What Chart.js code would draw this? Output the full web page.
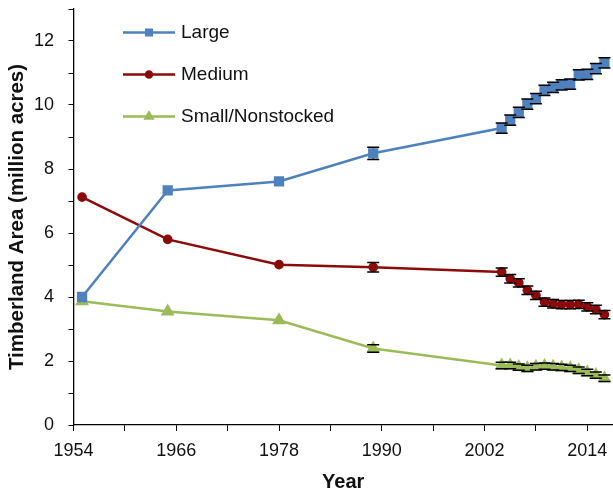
<!DOCTYPE html>
<html><head><meta charset="utf-8">
<script src="https://cdn.jsdelivr.net/npm/chart.js@4.4.0/dist/chart.umd.min.js"></script>
<style>html,body{margin:0;padding:0;background:#fff;}</style>
</head><body>
<canvas id="c" width="613" height="492"></canvas>
<script>
// ---- data ----
const years = [1955, 1965, 1978, 1989, 2004, 2005, 2006, 2007, 2008, 2009, 2010, 2011, 2012, 2013, 2014, 2015, 2016];
const largeArea  = [4.00, 7.33, 7.61, 8.49, 9.28, 9.53, 9.77, 10.03, 10.20, 10.46, 10.55, 10.63, 10.65, 10.94, 10.96, 11.14, 11.32];
const largeErr   = [0, 0, 0, 0.19, 0.16, 0.16, 0.16, 0.16, 0.16, 0.16, 0.16, 0.16, 0.16, 0.16, 0.16, 0.16, 0.16];
const mediumArea = [7.12, 5.80, 5.01, 4.93, 4.78, 4.57, 4.44, 4.21, 4.05, 3.84, 3.79, 3.76, 3.76, 3.77, 3.69, 3.61, 3.45];
const mediumErr  = [0, 0, 0, 0.15, 0.13, 0.13, 0.13, 0.13, 0.13, 0.13, 0.13, 0.13, 0.13, 0.13, 0.13, 0.13, 0.13];
const smallArea  = [3.87, 3.55, 3.27, 2.39, 1.86, 1.86, 1.81, 1.77, 1.82, 1.84, 1.82, 1.80, 1.77, 1.71, 1.64, 1.56, 1.46];
const smallErr   = [0, 0, 0, 0.12, 0.10, 0.10, 0.10, 0.10, 0.10, 0.10, 0.10, 0.10, 0.10, 0.10, 0.10, 0.10, 0.10];
const seriesNames = ['Large', 'Medium', 'Small/Nonstocked'];
const xTickValues = [1954, 1960, 1966, 1972, 1978, 1984, 1990, 1996, 2002, 2008, 2014];
const xTickLabels = [1954, 1966, 1978, 1990, 2002, 2014];
const yTickLabels = [0, 2, 4, 6, 8, 10, 12];

const FONT = '"Liberation Sans", Arial, sans-serif';
const pts = (vals) => years.map((x, i) => ({x: x, y: vals[i]}));

const errorBars = {
  id: 'errorBars',
  _draw(chart, part) {
    const ctx = chart.ctx, ys = chart.scales.y;
    chart.data.datasets.forEach((ds, di) => {
      const meta = chart.getDatasetMeta(di);
      meta.data.forEach((el, i) => {
        const e = ds.errors[i];
        if (!e) return;
        const v = ds.data[i].y;
        const yt = ys.getPixelForValue(v + e), yb = ys.getPixelForValue(v - e);
        ctx.save();
        ctx.strokeStyle = '#000';
        ctx.beginPath();
        if (part === 'stem') {
          ctx.lineWidth = 1.2;
          ctx.moveTo(el.x, yt); ctx.lineTo(el.x, yb);
        } else {
          ctx.lineWidth = 1.5;
          ctx.moveTo(el.x - 6, yt); ctx.lineTo(el.x + 6, yt);
          ctx.moveTo(el.x - 6, yb); ctx.lineTo(el.x + 6, yb);
        }
        ctx.stroke();
        ctx.restore();
      });
    });
  },
  beforeDatasetsDraw(chart) { this._draw(chart, 'stem'); },
  afterDatasetsDraw(chart) { this._draw(chart, 'cap'); }
};

const legendBox = {
  id: 'legendBox',
  afterDraw(chart) {
    const ctx = chart.ctx;
    chart.data.datasets.forEach((ds, i) => {
      const y = 32.5 + i * 42;
      ctx.save();
      ctx.strokeStyle = ds.borderColor; ctx.lineWidth = 2.5;
      ctx.beginPath(); ctx.moveTo(123, y); ctx.lineTo(175, y); ctx.stroke();
      ctx.fillStyle = ds.pointBackgroundColor; ctx.strokeStyle = ds.pointBorderColor;
      Chart.helpers.drawPoint(ctx, {pointStyle: ds.pointStyle, radius: ds.legendRadius, rotation: 0, borderWidth: 1}, 149, y);
      ctx.fillStyle = '#111'; ctx.font = '19px ' + FONT;
      ctx.textBaseline = 'middle'; ctx.textAlign = 'left';
      ctx.fillText(ds.label, 181, y);
      ctx.restore();
    });
  }
};

new Chart(document.getElementById('c'), {
  type: 'line',
  data: {
    datasets: [
      {label: seriesNames[0], data: pts(largeArea), errors: largeErr, borderColor: '#4F81BD', backgroundColor: '#4F81BD',
       pointBackgroundColor: '#4F81BD', pointBorderColor: '#4F81BD', pointStyle: 'rect', pointRadius: 5.5, legendRadius: 4, borderWidth: 2.5, tension: 0, clip: false},
      {label: seriesNames[1], data: pts(mediumArea), errors: mediumErr, borderColor: '#8B0A0A', backgroundColor: '#8B0A0A',
       pointBackgroundColor: '#8B0A0A', pointBorderColor: '#8B0A0A', pointStyle: 'circle', pointRadius: 3.6, legendRadius: 3, borderWidth: 2.5, tension: 0, clip: false},
      {label: seriesNames[2], data: pts(smallArea), errors: smallErr, borderColor: '#9BBB59', backgroundColor: '#9BBB59',
       pointBackgroundColor: '#9BBB59', pointBorderColor: '#9BBB59', pointStyle: 'triangle', pointRadius: 5.5, legendRadius: 4, borderWidth: 2.5, tension: 0, clip: false}
    ]
  },
  options: {
    responsive: false, animation: false, devicePixelRatio: 1,
    layout: {autoPadding: false, padding: {top: 9, right: 0, bottom: 0, left: 0}},
    plugins: {legend: {display: false}, tooltip: {enabled: false}},
    scales: {
      x: {
        type: 'linear', min: 1954, max: 2017,
        afterBuildTicks: (s) => { s.ticks = xTickValues.map(v => ({value: v})); },
        afterFit: (s) => { s.height = 67; s.paddingRight = 0; s.paddingLeft = 0; },
        ticks: {autoSkip: false, maxRotation: 0, padding: 9, color: '#111', font: {family: FONT, size: 18},
                callback: (v) => xTickLabels.includes(v) ? String(v) : ''},
        grid: {drawOnChartArea: false, drawTicks: true, tickLength: 6, color: '#000', lineWidth: 1},
        border: {display: true, color: '#000', width: 1.3},
        title: {display: true, text: 'Year', color: '#111', font: {family: FONT, size: 20, weight: 'bold', lineHeight: 1}, padding: {top: 0, bottom: 0}}
      },
      y: {
        type: 'linear', min: 0, max: 13,
        afterBuildTicks: (s) => { s.ticks = Array.from({length: 14}, (_, k) => ({value: k})); },
        afterFit: (s) => { s.width = 73.5; s.paddingTop = 0; s.paddingBottom = 0; },
        ticks: {autoSkip: false, padding: 14.5, color: '#111', font: {family: FONT, size: 18},
                callback: (v) => yTickLabels.includes(v) ? String(v) : ''},
        grid: {drawOnChartArea: false, drawTicks: true, tickLength: 5, color: '#000', lineWidth: 1},
        border: {display: true, color: '#000', width: 1.3},
        title: {display: true, text: 'Timberland Area (million acres)', color: '#111', font: {family: FONT, size: 20.5, weight: 'bold', lineHeight: 1}, padding: {top: 7, bottom: 0}}
      }
    }
  },
  plugins: [errorBars, legendBox]
});
</script>
</body></html>
